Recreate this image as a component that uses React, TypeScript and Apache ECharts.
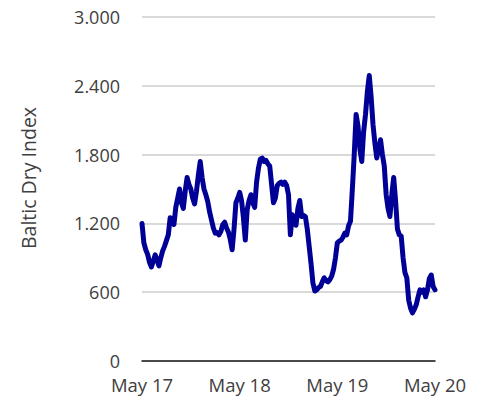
import React, { useEffect, useRef } from "react";
import * as echarts from "echarts";

// Weekly Baltic Dry Index readings, May 2017 -> May 2020 (157 weeks)
const bdiValues: number[] = [
  1200, 1030, 970, 930, 860, 820, 870, 925, 880, 830,
  900, 960, 1000, 1050, 1100, 1250, 1230, 1190, 1340, 1420,
  1500, 1380, 1330, 1480, 1600, 1540, 1500, 1420, 1370, 1480,
  1620, 1740, 1600, 1500, 1450, 1390, 1300, 1230, 1160, 1115,
  1120, 1100, 1130, 1190, 1210, 1160, 1125, 1060, 970, 1150,
  1380, 1420, 1470, 1400, 1250, 1055, 1320, 1400, 1450, 1380,
  1340, 1560, 1680, 1760, 1770, 1740, 1750, 1720, 1700, 1540,
  1380, 1420, 1530, 1550, 1560, 1540, 1560, 1530, 1450, 1100,
  1275, 1220, 1185, 1330, 1400, 1260, 1270, 1260, 1150, 1000,
  850, 680, 610, 620, 640, 650, 690, 725, 700, 690,
  710, 740, 800, 900, 1030, 1045, 1055, 1080, 1115, 1100,
  1180, 1220, 1500, 1800, 2150, 2050, 1850, 1740, 2000, 2150,
  2350, 2490, 2300, 2060, 1900, 1770, 1850, 1930, 1800, 1700,
  1450, 1330, 1260, 1450, 1600, 1400, 1150, 1100, 1090, 900,
  770, 725, 530, 460, 420, 450, 490, 560, 620, 600,
  620, 560, 620, 720, 750, 650, 620,
];

const weeks: string[] = bdiValues.map((_, i) => String(i));
const xTickLabels: string[] = ["May 17", "May 18", "May 19", "May 20"];
const weeksPerYear = 52;
const yTicks: number[] = [0, 600, 1200, 1800, 2400, 3000];
const yAxisTitle = "Baltic Dry Index";

const fontFamily = "'Open Sans', 'Noto Sans', sans-serif";
const textColor = "#404040";

function formatThousands(v: number): string {
  if (v < 1000) return String(v);
  const th = Math.floor(v / 1000);
  const rest = String(v % 1000).padStart(3, "0");
  return th + "." + rest;
}

export default function App() {
  const ref = useRef<HTMLDivElement>(null);

  useEffect(() => {
    if (!ref.current) return;
    const chart = echarts.init(ref.current, undefined, { renderer: "svg" });
    chart.setOption({
      animation: false,
      backgroundColor: "#ffffff",
      grid: { left: 142, right: 47, top: 17, bottom: 39 },
      graphic: [
        {
          type: "text",
          x: 28,
          y: 178,
          rotation: Math.PI / 2,
          style: {
            text: yAxisTitle,
            fontSize: 19.5,
            fontFamily,
            fill: textColor,
            align: "center",
            verticalAlign: "middle",
          },
        },
      ],
      xAxis: {
        type: "category",
        data: weeks,
        boundaryGap: false,
        axisLine: { show: true, lineStyle: { color: "#1a1a1a", width: 1.5 } },
        axisTick: { show: false },
        splitLine: { show: false },
        axisLabel: {
          interval: (idx: number) => idx % weeksPerYear === 0,
          formatter: (_: string, idx: number) => xTickLabels[idx / weeksPerYear] ?? "",
          fontSize: 18.5,
          fontFamily,
          color: textColor,
          margin: 14,
        },
      },
      yAxis: {
        type: "value",
        min: yTicks[0],
        max: yTicks[yTicks.length - 1],
        interval: yTicks[1] - yTicks[0],
        axisLine: { show: false },
        axisTick: { show: false },
        splitLine: { show: true, lineStyle: { color: "#d9d9d9", width: 2 } },
        axisLabel: {
          formatter: (v: number) => formatThousands(v),
          fontSize: 18,
          fontFamily,
          color: textColor,
          margin: 22,
        },
      },
      series: [
        {
          type: "line",
          data: bdiValues,
          showSymbol: false,
          symbol: "none",
          lineStyle: { color: "#000096", width: 5, join: "round", cap: "round" },
        },
      ],
    });
    return () => chart.dispose();
  }, []);

  return (
    <div
      ref={ref}
      style={{ position: "fixed", left: 0, top: 0, width: 482, height: 400 }}
    />
  );
}
